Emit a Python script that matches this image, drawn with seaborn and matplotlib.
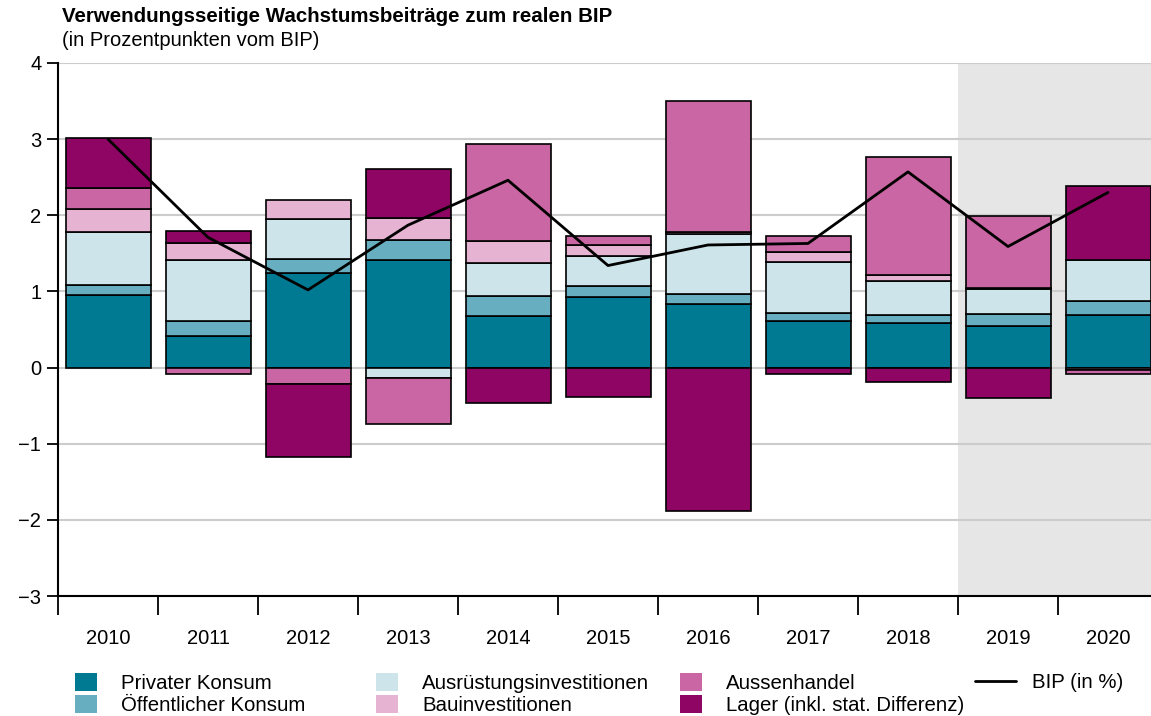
import numpy as np
import matplotlib
matplotlib.use("Agg")
import matplotlib.pyplot as plt
import seaborn as sns
from matplotlib.patches import Patch
from matplotlib.lines import Line2D

years = ["2010", "2011", "2012", "2013", "2014", "2015", "2016", "2017", "2018", "2019", "2020"]

privater_konsum = [0.95, 0.41, 1.24, 1.41, 0.68, 0.93, 0.83, 0.61, 0.58, 0.54, 0.69]
oeffentlicher_konsum = [0.13, 0.20, 0.19, 0.27, 0.26, 0.14, 0.14, 0.11, 0.11, 0.16, 0.18]
ausruestung = [0.70, 0.80, 0.52, -0.14, 0.43, 0.39, 0.78, 0.67, 0.45, 0.33, 0.54]
bau = [0.30, 0.22, 0.25, 0.28, 0.29, 0.15, 0.03, 0.13, 0.07, 0.02, -0.03]
aussenhandel = [0.28, -0.08, -0.21, -0.60, 1.27, 0.12, 1.72, 0.21, 1.56, 0.94, -0.05]
lager = [0.66, 0.16, -0.97, 0.65, -0.47, -0.38, -1.88, -0.09, -0.19, -0.40, 0.98]
bip = [3.00, 1.71, 1.02, 1.87, 2.46, 1.34, 1.61, 1.63, 2.57, 1.59, 2.30]

labels = ["Privater Konsum", "Öffentlicher Konsum", "Ausrüstungsinvestitionen",
          "Bauinvestitionen", "Aussenhandel", "Lager (inkl. stat. Differenz)"]
colors = ["#007a93", "#67afc0", "#cde4ea", "#e6b3d2", "#c966a3", "#8e0563"]

sns.set_theme(style="white")
plt.rcParams["font.family"] = ["Liberation Sans", "DejaVu Sans"]
plt.rcParams["text.color"] = "black"
plt.rcParams["xtick.labelcolor"] = "black"
plt.rcParams["ytick.labelcolor"] = "black"

fig = plt.figure(figsize=(11.51, 7.16), dpi=100)
ax = fig.add_axes([58 / 1151, 1 - 596 / 716, 1 - 58 / 1151, (596 - 63) / 716])

x = np.arange(len(years))
pos_base = np.zeros(len(years))
neg_base = np.zeros(len(years))
for vals, col in zip([privater_konsum, oeffentlicher_konsum, ausruestung, bau, aussenhandel, lager], colors):
    v = np.array(vals)
    bottoms = np.where(v >= 0, pos_base, neg_base)
    ax.bar(x, v, bottom=bottoms, width=0.85, color=col, edgecolor="black", linewidth=1.2, zorder=3)
    pos_base = pos_base + np.where(v >= 0, v, 0)
    neg_base = neg_base + np.where(v < 0, v, 0)

sns.lineplot(x=x, y=bip, ax=ax, color="black", linewidth=2, zorder=4)

ax.axvspan(8.5, 10.6, color="#e6e6e6", zorder=0, lw=0)
for yv in range(-3, 5):
    ax.axhline(yv, color="#cccccc", linewidth=1.5, zorder=1)

ax.set_xlim(-0.5, 10.43)
ax.set_ylim(-3, 4)
ax.set_yticks(range(-3, 5))
ax.set_yticklabels([str(v).replace("-", "\u2212") for v in range(-3, 5)], fontsize=14.5)
ax.set_xticks(x)
ax.set_xticklabels(years, fontsize=14.5)
ax.set_xticks(np.arange(-0.5, 10, 1.0), minor=True)
ax.tick_params(axis="x", which="major", bottom=True, length=0, pad=24, labelcolor="black")
ax.tick_params(axis="x", which="minor", bottom=True, length=14, width=1.3, color="black", direction="out")
ax.tick_params(axis="y", length=8, width=1.3, color="black", direction="out", left=True, pad=4,
               labelcolor="black")

for s in ["top", "right"]:
    ax.spines[s].set_visible(False)
for s in ["left", "bottom"]:
    ax.spines[s].set_color("black")
    ax.spines[s].set_linewidth(1.5)

fig.text(62 / 1151, 1 - 17 / 716, "Verwendungsseitige Wachstumsbeiträge zum realen BIP",
         fontsize=14.8, fontweight="bold", va="center", ha="left", color="black")
fig.text(62 / 1151, 1 - 40 / 716, "(in Prozentpunkten vom BIP)", fontsize=14.5, va="center",
         ha="left", color="black")

# legend: four columns placed by hand
handles = [Patch(facecolor=c, edgecolor="none") for c in colors]
col_x = [75, 376, 680]
for i, cx in enumerate(col_x):
    fig.legend(handles[2 * i:2 * i + 2], labels[2 * i:2 * i + 2], loc="center left",
               bbox_to_anchor=(cx / 1151, 1 - 694 / 716), frameon=False, fontsize=14.7,
               handlelength=1.1, handleheight=1.0, handletextpad=1.15,
               labelspacing=0.1, borderpad=0, borderaxespad=0, labelcolor="black")
fig.legend([Line2D([0], [0], color="black", linewidth=2)], ["BIP (in %)"], loc="center left",
           bbox_to_anchor=(975 / 1151, 1 - 683 / 716), frameon=False, fontsize=14.7,
           handlelength=2.0, handletextpad=0.8, borderpad=0, borderaxespad=0, labelcolor="black")

fig.savefig("out.png", dpi=100)
